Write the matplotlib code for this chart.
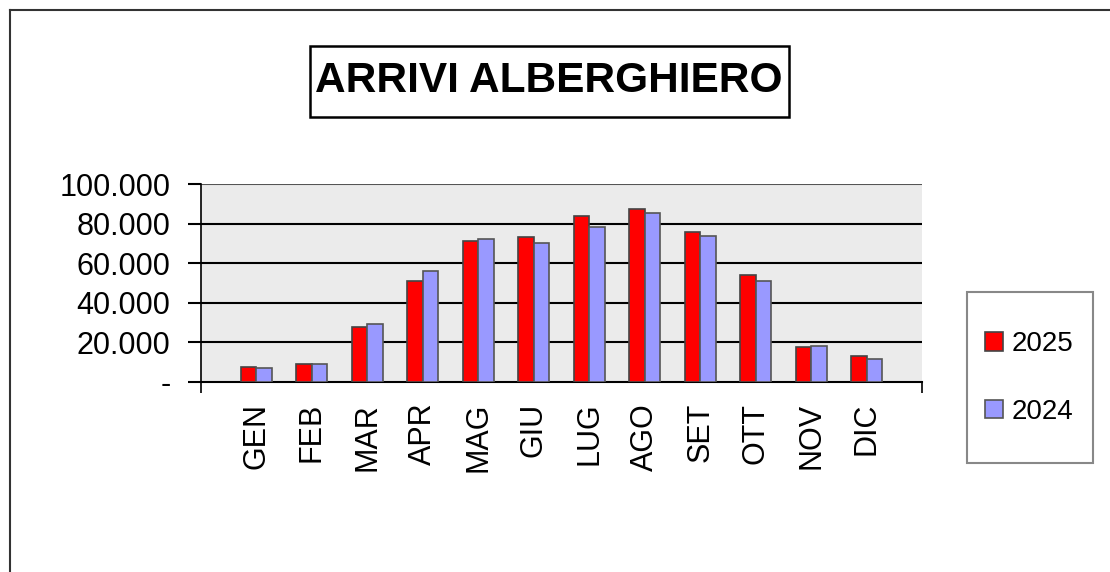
import matplotlib.pyplot as plt
from matplotlib.patches import Rectangle
from matplotlib.lines import Line2D

mesi = ["GEN", "FEB", "MAR", "APR", "MAG", "GIU", "LUG", "AGO", "SET", "OTT", "NOV", "DIC"]
arrivi_2025 = [7700, 9100, 27800, 51000, 71400, 73000, 83800, 87200, 75900, 53900, 17500, 13100]
arrivi_2024 = [6900, 8900, 29500, 56000, 72000, 70000, 78100, 85500, 73900, 51000, 18400, 11400]
y_ticks = [0, 20000, 40000, 60000, 80000, 100000]
y_labels = ["-", "20.000", "40.000", "60.000", "80.000", "100.000"]

plt.rcParams['font.family'] = ['Liberation Sans', 'DejaVu Sans']

W, H = 1110, 572
fig = plt.figure(figsize=(W / 100, H / 100), dpi=100)

def fx(px):
    return px / W

def fy(py):
    return 1 - py / H

# outer frame
fig.add_artist(Line2D([fx(10), fx(10)], [0, fy(10)], color='#333333', lw=1.5, transform=fig.transFigure))
fig.add_artist(Line2D([fx(10), 1], [fy(10), fy(10)], color='#333333', lw=1.5, transform=fig.transFigure))

ax = fig.add_axes([fx(201), fy(382), fx(922) - fx(201), fy(184) - fy(382)])
ax.set_facecolor('#ebebeb')

x = list(range(1, len(mesi) + 1))
w = 0.28
b1 = ax.bar([i - w/2 for i in x], arrivi_2025, width=w, color='#ff0000', edgecolor='#444444', linewidth=1.2, label='2025', zorder=3)
b2 = ax.bar([i + w/2 for i in x], arrivi_2024, width=w, color='#9999ff', edgecolor='#555555', linewidth=1.2, label='2024', zorder=3)

ax.set_xlim(0, 13)
ax.set_ylim(0, 100000)
ax.set_yticks(y_ticks)
ax.set_yticklabels(y_labels, fontsize=22)
ax.set_xticks(range(0, 14), minor=True)
ax.set_xticks(x)
ax.set_xticklabels(mesi, rotation=90, fontsize=22)
ax.tick_params(axis='x', which='major', length=0, pad=15)
ax.tick_params(axis='x', which='minor', length=8, width=1.2, color='black')
ax.tick_params(axis='y', length=9.4, width=1.5, pad=12.5)

for yv in y_ticks[1:]:
    ax.axhline(yv, color='black' if yv < 100000 else '#555555', lw=1.5, zorder=1)

for s in ['top', 'right']:
    ax.spines[s].set_visible(False)
ax.spines['left'].set_linewidth(1.2)
ax.spines['bottom'].set_linewidth(1.5)

# title with box
fig.add_artist(Rectangle((fx(310), fy(117)), fx(789) - fx(310), fy(46) - fy(117),
                         transform=fig.transFigure, facecolor='white', edgecolor='black', lw=1.8))
fig.text(fx(549), fy(81), "ARRIVI ALBERGHIERO", ha='center', va='center',
         fontsize=30.5, fontweight='bold')

# legend box
fig.add_artist(Rectangle((fx(967), fy(463)), fx(1093) - fx(967), fy(292) - fy(463),
                         transform=fig.transFigure, facecolor='white', edgecolor='#888888', lw=1.5))
leg = fig.legend(handles=[b1, b2], loc='center left', bbox_to_anchor=(fx(971), fy(378)),
                 fontsize=20, frameon=False,
                 handlelength=0.65, handleheight=0.65, labelspacing=1.48, borderpad=0.0, handletextpad=0.3)

fig.savefig("out.png", dpi=100)
